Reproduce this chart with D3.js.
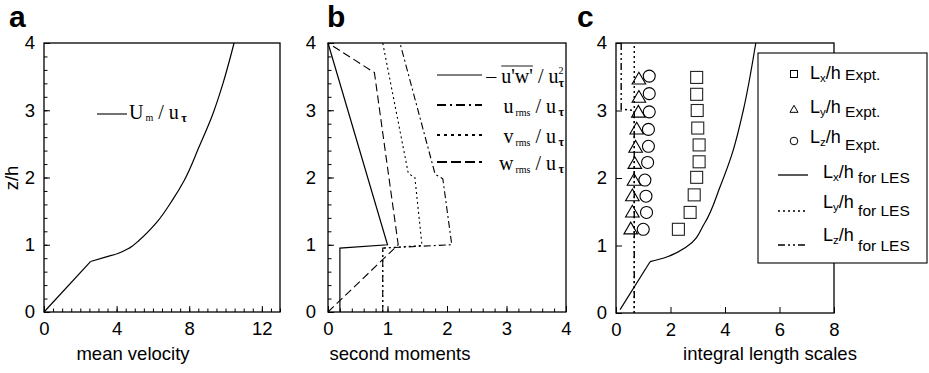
<!DOCTYPE html>
<html><head><meta charset="utf-8">
<script src="https://cdn.jsdelivr.net/npm/d3@7"></script>
<style>html,body{margin:0;padding:0;background:#fff;}svg{display:block;}</style>
</head><body>
<svg id="chart" width="929" height="373"></svg>
<script>
// ---------- DATA ----------
// Panel a: mean velocity profile
const aZ = [0, 0.75, 0.82, 0.87, 0.95, 1.07, 1.32, 1.67, 1.96, 2.46, 2.93, 3.40, 4.0];
const aU = [0, 2.56, 3.43, 4.07, 4.7, 5.26, 6.17, 7.09, 7.73, 8.55, 9.28, 9.86, 10.47];
const aXTicks = [0, 4, 8, 12];
const zTicks = [0, 1, 2, 3, 4];

// Panel b: second moments
const uwX   = [0.2, 0.2, 1.0, 0];
const uwZ   = [0, 0.95, 1.0, 4.0];
const urmsX = [0.92, 0.92, 2.08, 1.93, 1.8, 1.21];
const urmsZ = [0, 0.95, 1.0, 1.98, 2.05, 4.0];
const vrmsX = [0.92, 0.92, 1.58, 1.46, 1.35, 0.92];
const vrmsZ = [0, 0.95, 0.99, 2.0, 2.06, 4.0];
const wrmsX = [0, 1.18, 0.78, 0];
const wrmsZ = [0, 1.0, 3.56, 4.0];
const bXTicks = [0, 1, 2, 3, 4];

// Panel c: integral length scales
const lxLesX = [0.15, 1.25, 1.86, 2.59, 3.25, 3.82, 4.3, 4.67, 5.13];
const lxLesZ = [0.05, 0.76, 0.83, 0.98, 1.33, 1.87, 2.41, 3.0, 4.0];
const lyLesX = [0.67, 0.67];
const lyLesZ = [0, 4];
const lzLesX = [0.19, 0.19, 0.67, 0.67];
const lzLesZ = [4, 3.02, 3.0, 0];
const lxExpX = [2.29, 2.72, 2.87, 2.96, 3.05, 3.05, 3.0, 2.98, 2.96, 2.96];
const lxExpZ = [1.24, 1.49, 1.75, 2.01, 2.24, 2.49, 2.74, 3.0, 3.24, 3.49];
const lyExpX = [0.54, 0.6, 0.6, 0.66, 0.69, 0.72, 0.76, 0.82, 0.84, 0.84];
const lyExpZ = [1.23, 1.48, 1.72, 1.95, 2.2, 2.44, 2.71, 2.96, 3.18, 3.45];
const lzExpX = [1.0, 1.12, 1.1, 1.06, 1.16, 1.19, 1.19, 1.22, 1.22, 1.22];
const lzExpZ = [1.24, 1.49, 1.73, 1.97, 2.23, 2.47, 2.72, 2.98, 3.25, 3.51];
const cXTicks = [0, 2, 4, 6, 8];

// ---------- DRAWING ----------
const SANS = "'Liberation Sans', Arial, Helvetica, sans-serif";
const SERIF = "'Liberation Serif', 'Times New Roman', Times, serif";
const svg = d3.select('#chart');

const zip = (xs, zs) => xs.map((x, i) => [x, zs[i]]);

function makePanel(cfg) {
  const g = svg.append('g');
  const x = d3.scaleLinear().domain(cfg.xDom).range([cfg.x0, cfg.x1]);
  const y = d3.scaleLinear().domain([0, 4]).range([cfg.yBot, cfg.yTop]);
  if (cfg.xMinor) {
    g.append('g').attr('transform', `translate(0,${cfg.yBot})`)
      .call(d3.axisBottom(x).tickValues(cfg.xMinor).tickSize(-3.5).tickFormat(''))
      .call(s => s.select('.domain').remove());
  }
  if (cfg.yMinor) {
    g.append('g').attr('transform', `translate(${cfg.x0},0)`)
      .call(d3.axisLeft(y).tickValues(cfg.yMinor).tickSize(-3.5).tickFormat(''))
      .call(s => s.select('.domain').remove());
  }
  const xa = g.append('g').attr('transform', `translate(0,${cfg.yBot})`)
    .call(d3.axisBottom(x).tickValues(cfg.xTicks).tickSize(-6).tickPadding(10).tickFormat(d3.format('d')));
  xa.select('.domain').remove();
  const ya = g.append('g').attr('transform', `translate(${cfg.x0},0)`)
    .call(d3.axisLeft(y).tickValues(zTicks).tickSize(-6).tickPadding(cfg.yPad).tickFormat(d3.format('d')));
  ya.select('.domain').remove();
  g.selectAll('.tick line').attr('stroke', '#000').attr('stroke-width', 1);
  g.selectAll('.tick text').attr('font-family', SANS).attr('font-size', 18.5).attr('fill', '#000');
  g.append('rect').attr('x', cfg.x0).attr('y', cfg.yTop)
    .attr('width', cfg.x1 - cfg.x0).attr('height', cfg.yBot - cfg.yTop)
    .attr('fill', 'none').attr('stroke', '#000').attr('stroke-width', 1.3);
  svg.append('text').attr('x', cfg.letterX).attr('y', 27).text(cfg.letter)
    .attr('font-family', SANS).attr('font-weight', 'bold').attr('font-size', 30);
  svg.append('text').attr('x', cfg.titleX).attr('y', 360).attr('text-anchor', 'middle')
    .attr('font-family', SANS).attr('font-size', 18.5).text(cfg.title);
  return {g, x, y};
}

function drawLine(p, pts, dash, width, curve) {
  const line = d3.line().x(d => p.x(d[0])).y(d => p.y(d[1])).curve(curve || d3.curveLinear);
  p.g.append('path').datum(pts).attr('d', line)
    .attr('fill', 'none').attr('stroke', '#000').attr('stroke-width', width || 1.1)
    .attr('stroke-dasharray', dash || null);
}

function rich(g, x, y, parts, anchor) {
  const t = g.append('text').attr('x', x).attr('y', y).attr('text-anchor', anchor || 'start');
  let cur = 0;
  parts.forEach(p => {
    const off = p.off || 0;
    const ts = t.append('tspan').text(p.t)
      .attr('font-family', p.family || SERIF).attr('font-size', p.size)
      .attr('font-weight', p.weight || 'normal').attr('dy', off - cur);
    if (p.dx) ts.attr('dx', p.dx);
    cur = off;
  });
  return t;
}

// ---------- Panel a ----------
const pa = makePanel({x0: 44, x1: 280, yTop: 43, yBot: 312, xDom: [0, 13],
  xTicks: aXTicks, xMinor: d3.range(0, 13.01, 0.5), yMinor: d3.range(0, 4.01, 0.2),
  yPad: 9, letter: 'a', letterX: 9, title: 'mean velocity', titleX: 133});
const aPts = zip(aU, aZ);
drawLine(pa, aPts.slice(0, 2), null, 1.2);
drawLine(pa, aPts.slice(1), null, 1.2, d3.curveMonotoneY);
svg.append('text').attr('x', 13).attr('y', 178).attr('transform', 'rotate(-90,13,178)')
  .attr('text-anchor', 'middle').attr('dominant-baseline', 'middle')
  .attr('font-family', SANS).attr('font-size', 18.5).text('z/h');
svg.append('line').attr('x1', 97).attr('x2', 127).attr('y1', 114).attr('y2', 114)
  .attr('stroke', '#000').attr('stroke-width', 1.1);
rich(svg, 129, 119, [
  {t: 'U', size: 20}, {t: '\u2009m', size: 10, off: 2}, {t: ' / u', size: 20},
  {t: '\u2009\u03c4', size: 12, weight: 'bold', off: 3}]);

// ---------- Panel b ----------
const pb = makePanel({x0: 328, x1: 566, yTop: 43, yBot: 312, xDom: [0, 4],
  xTicks: bXTicks, xMinor: d3.range(0, 4.01, 0.2), yMinor: d3.range(0, 4.01, 0.2),
  yPad: 12, letter: 'b', letterX: 327, title: 'second moments', titleX: 400});
drawLine(pb, zip(uwX, uwZ), null, 1.2);
drawLine(pb, zip(urmsX, urmsZ), '7,3,2,3', 1.1);
drawLine(pb, zip(vrmsX, vrmsZ), '2,3', 1.1);
drawLine(pb, zip(wrmsX, wrmsZ), '8,4', 1.1);

const bLeg = [
  {y: 75, dash: null},
  {y: 105, dash: '9,4,2,4'},
  {y: 135, dash: '3,4'},
  {y: 162, dash: '10,4'}
];
bLeg.forEach((e, i) => {
  svg.append('line').attr('x1', 437).attr('x2', 482).attr('y1', e.y).attr('y2', e.y)
    .attr('stroke', '#000').attr('stroke-width', i === 0 ? 1.1 : 1.8)
    .attr('stroke-dasharray', e.dash);
});
const t1 = rich(svg, 564, 83, [
  {t: '\u2013 u\'w\'', size: 20}, {t: ' / u', size: 20},
  {t: '2', size: 10, off: -9}, {t: '\u03c4', size: 12, weight: 'bold', off: 4, dx: -5}], 'end');
(function() {
  const n = t1.node();
  const s = n.getStartPositionOfChar(2).x, e = n.getEndPositionOfChar(5).x;
  svg.append('line').attr('x1', s).attr('x2', e).attr('y1', 66).attr('y2', 66)
    .attr('stroke', '#000').attr('stroke-width', 0.9);
})();
['u', 'v', 'w'].forEach((c, i) => {
  rich(svg, 564, bLeg[i + 1].y + 8, [
    {t: c, size: 20}, {t: '\u2009rms', size: 10, off: 3}, {t: ' / u', size: 20},
    {t: '\u2009\u03c4', size: 12, weight: 'bold', off: 3}], 'end');
});

// ---------- Panel c ----------
const pc = makePanel({x0: 616, x1: 834, yTop: 43, yBot: 313, xDom: [0, 8],
  xTicks: cXTicks, xMinor: null, yMinor: null,
  yPad: 9, letter: 'c', letterX: 577, title: 'integral length scales', titleX: 770});
const lxPts = zip(lxLesX, lxLesZ);
drawLine(pc, lxPts.slice(0, 2), null, 1.2);
drawLine(pc, lxPts.slice(1), null, 1.2, d3.curveMonotoneY);
drawLine(pc, zip(lyLesX, lyLesZ), '2,3', 1.4);
drawLine(pc, zip(lzLesX, lzLesZ), '7,3,2,3,2,3', 1.4);

const sq = 12;
pc.g.selectAll('rect.sq').data(zip(lxExpX, lxExpZ)).join('rect').attr('class', 'sq')
  .attr('x', d => pc.x(d[0]) - sq / 2).attr('y', d => pc.y(d[1]) - sq / 2)
  .attr('width', sq).attr('height', sq).attr('fill', 'none').attr('stroke', '#222').attr('stroke-width', 1.1);
const tri = d3.symbol().type(d3.symbolTriangle).size(80);
pc.g.selectAll('path.tri').data(zip(lyExpX, lyExpZ)).join('path').attr('class', 'tri')
  .attr('d', tri).attr('transform', d => `translate(${pc.x(d[0])},${pc.y(d[1])})`)
  .attr('fill', 'none').attr('stroke', '#000').attr('stroke-width', 1.1);
pc.g.selectAll('circle.ci').data(zip(lzExpX, lzExpZ)).join('circle').attr('class', 'ci')
  .attr('cx', d => pc.x(d[0])).attr('cy', d => pc.y(d[1])).attr('r', 6)
  .attr('fill', 'none').attr('stroke', '#000').attr('stroke-width', 1.1);

// legend c
const lg = svg.append('g');
lg.append('rect').attr('x', 758).attr('y', 53).attr('width', 169).attr('height', 210)
  .attr('fill', '#fff').attr('stroke', '#000').attr('stroke-width', 1.1);
const cRows = [
  {y: 74, sub: 'x', kind: 'sq', suffix: 'Expt.', lOff: 5, sOff: 6},
  {y: 110, sub: 'y', kind: 'tri', suffix: 'Expt.', lOff: 3, sOff: 7},
  {y: 141, sub: 'z', kind: 'ci', suffix: 'Expt.', lOff: 2, sOff: 9},
  {y: 175, sub: 'x', kind: 'line', dash: null, suffix: 'for LES', lOff: 3, sOff: 8},
  {y: 211, sub: 'y', kind: 'line', dash: '2,3', suffix: 'for LES', lOff: -3, sOff: 5},
  {y: 245, sub: 'z', kind: 'line', dash: '7,3,2,3,2,3', suffix: 'for LES', lOff: -4, sOff: 6}
];
cRows.forEach(r => {
  if (r.kind === 'sq') lg.append('rect').attr('x', 790.5).attr('y', r.y - 3.5).attr('width', 7).attr('height', 7)
    .attr('fill', 'none').attr('stroke', '#000').attr('stroke-width', 1);
  if (r.kind === 'tri') lg.append('path').attr('d', d3.symbol().type(d3.symbolTriangle).size(28))
    .attr('transform', `translate(794,${r.y})`).attr('fill', 'none').attr('stroke', '#000').attr('stroke-width', 1);
  if (r.kind === 'ci') lg.append('circle').attr('cx', 794).attr('cy', r.y).attr('r', 3.8)
    .attr('fill', 'none').attr('stroke', '#000').attr('stroke-width', 1);
  if (r.kind === 'line') lg.append('line').attr('x1', 778).attr('x2', 808).attr('y1', r.y).attr('y2', r.y)
    .attr('stroke', '#000').attr('stroke-width', 1.3).attr('stroke-dasharray', r.dash);
  const lx = r.kind === 'line' ? 823 : 810;
  rich(lg, lx, r.y + r.lOff, [
    {t: 'L', size: 18, family: SANS}, {t: r.sub, size: 11.5, family: SANS, off: 3},
    {t: '/h', size: 18, family: SANS}, {t: ' ' + r.suffix, size: 15.5, family: SANS, off: r.sOff - r.lOff}]);
});
</script>
</body></html>
